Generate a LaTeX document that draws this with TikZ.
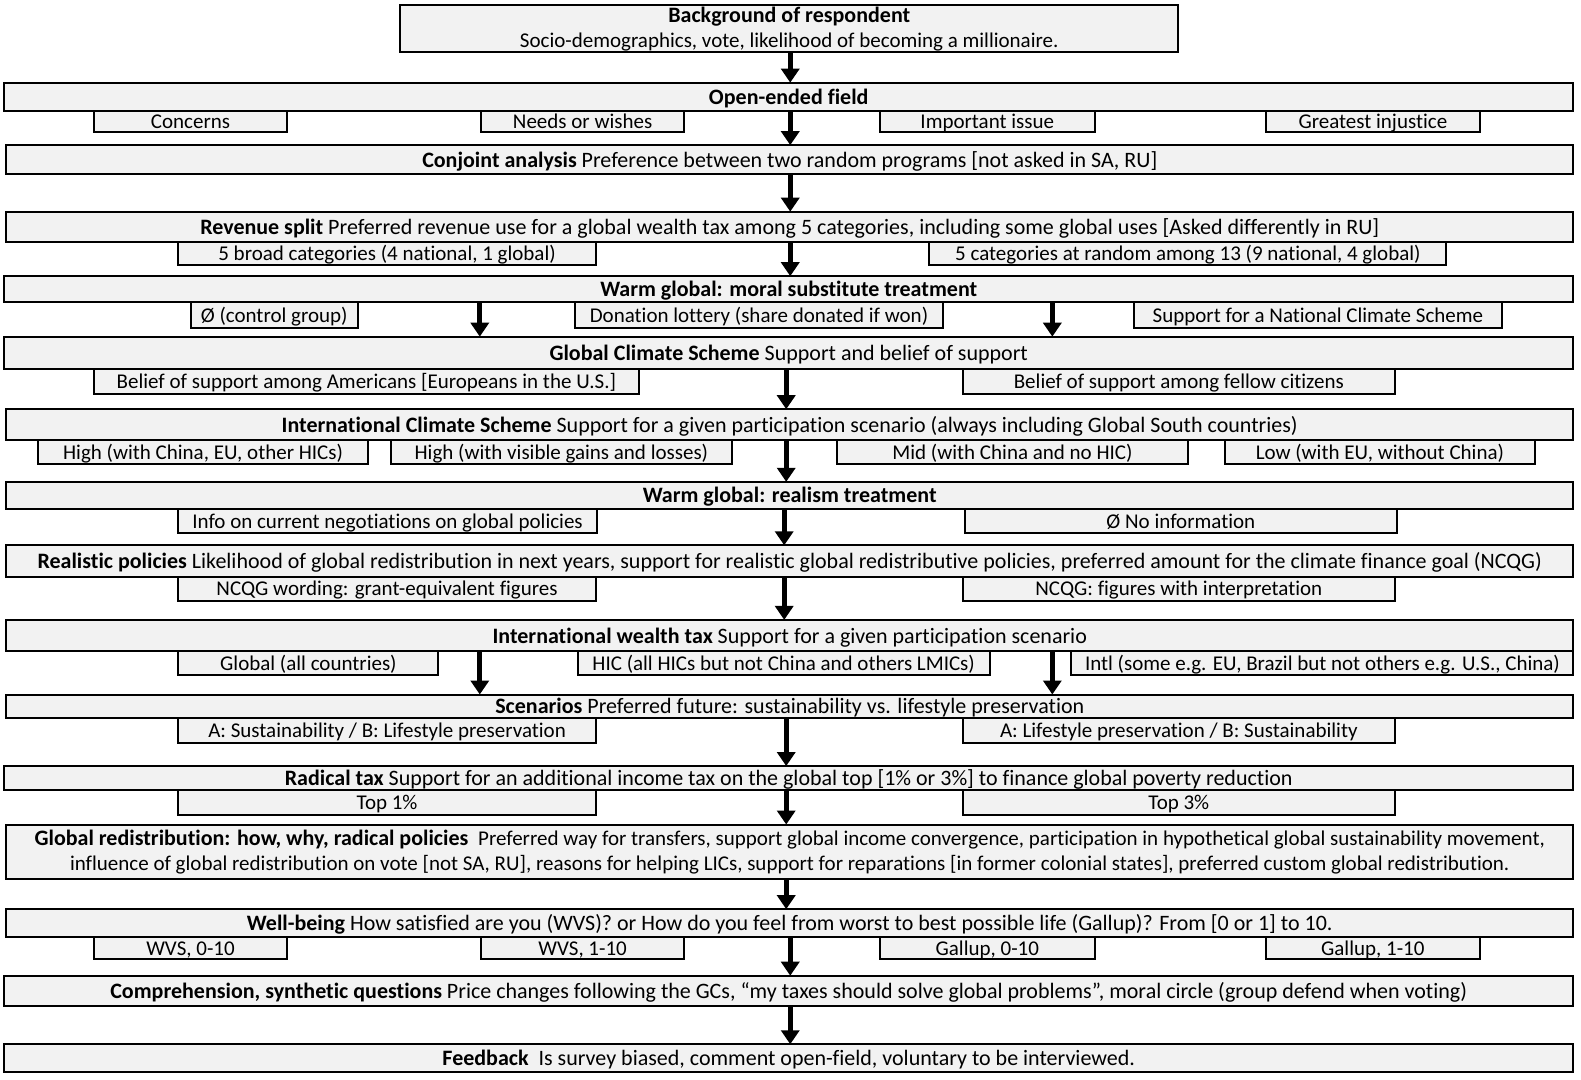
\documentclass[tikz,border=0pt]{standalone}
\usepackage{fontspec}
\setmainfont{Carlito}[Ligatures=NoCommon]
\usetikzlibrary{arrows.meta}
\definecolor{boxgray}{HTML}{F2F2F2}
\newcommand\fmain{\fontsize{11}{12.6}\selectfont}
\newcommand\fsub{\fontsize{10.5}{12.6}\selectfont}
\newcommand\B[7][bx]{%
  \pgfmathsetmacro\bw{(#5-#3)*0.504}%
  \pgfmathsetmacro\bh{(#6-#4)*0.504}%
  \node[#1, minimum width=\bw pt, minimum height=\bh pt] (#2) at ({(#3+#5)/2},{(#4+#6)/2}) {#7};}
\tikzset{
  base/.style={draw, line width=1pt, fill=boxgray, inner sep=0pt, outer sep=0pt},
  bx/.style={base, font=\fmain, text height=7.5pt, text depth=0pt},
  sb/.style={base, font=\fsub, text height=7pt, text depth=0pt},
  two/.style={base, font=\fmain, align=center},
  arr/.style={line width=2.4pt, -{Triangle[width=9pt,length=7pt]}},
}
\begin{document}
\begin{tikzpicture}[x=0.504pt,y=-0.504pt]
\useasboundingbox (0,0) rectangle (1568.5,1071.4);
% Background
\B[two]{bg}{397}{5}{1169}{52}{\textbf{Background of respondent}\\\fsub Socio-demographics, vote, likelihood of becoming a millionaire.}
% Open-ended
\B{open}{4}{82}{1561}{110}{\textbf{Open-ended field}}
\B[sb]{o1}{93}{110}{285}{131}{Concerns}
\B[sb]{o2}{477}{110}{679}{131}{Needs or wishes}
\B[sb]{o3}{873}{110}{1086}{131}{Important issue}
\B[sb]{o4}{1256}{110}{1468}{131}{Greatest injustice}
% Conjoint
\B{conj}{6}{144}{1561}{173}{\textbf{Conjoint analysis} Preference between two random programs [not asked in SA, RU]}
% Revenue split
\B{rev}{6}{210}{1561}{240}{\textbf{Revenue split} Preferred revenue use for a global wealth tax among 5 categories, including some global uses [Asked differently in RU]}
\B[sb]{r1}{177}{240}{591}{263}{5 broad categories (4 national, 1 global)}
\B[sb]{r2}{922}{240}{1435}{263}{5 categories at random among 13 (9 national, 4 global)}
% Warm global moral
\B{wgm}{4}{274}{1561}{300}{\textbf{Warm global: moral substitute treatment}}
\B[sb]{m1}{189}{300}{355}{325}{Ø (control group)}
\B[sb]{m2}{570}{300}{936}{325}{Donation lottery (share donated if won)}
\B[sb]{m3}{1125}{300}{1490}{325}{Support for a National Climate Scheme}
% Global Climate Scheme
\B{gcs}{4}{334}{1561}{366}{\textbf{Global Climate Scheme} Support and belief of support}
\B[sb]{g1}{93}{366}{634}{391}{Belief of support among Americans [Europeans in the U.S.]}
\B[sb]{g2}{955}{366}{1384}{391}{Belief of support among fellow citizens}
% ICS
\B{ics}{6}{406}{1561}{437}{\textbf{International Climate Scheme} Support for a given participation scenario (always including Global South countries)}
\B[sb]{i1}{38}{437}{365}{460}{High (with China, EU, other HICs)}
\B[sb]{i2}{388}{437}{726}{460}{High (with visible gains and losses)}
\B[sb]{i3}{830}{437}{1179}{460}{Mid (with China and no HIC)}
\B[sb]{i4}{1215}{437}{1523}{460}{Low (with EU, without China)}
% Warm global realism
\B{wgr}{6}{478}{1561}{505}{\textbf{Warm global: realism treatment}}
\B[sb]{w1}{177}{505}{592}{529}{Info on current negotiations on global policies}
\B[sb]{w2}{957}{505}{1386}{529}{Ø No information}
% Realistic policies
\B{real}{6}{541}{1561}{572}{\textbf{Realistic policies} Likelihood of global redistribution in next years, support for realistic global redistributive policies, preferred amount for the climate finance goal (NCQG)}
\B[sb]{p1}{177}{572}{591}{596}{NCQG wording: grant-equivalent figures}
\B[sb]{p2}{955}{572}{1384}{596}{NCQG: figures with interpretation}
% International wealth tax
\B{iwt}{6}{615}{1561}{646}{\textbf{International wealth tax} Support for a given participation scenario}
\B[sb]{t1}{177}{646}{435}{670}{Global (all countries)}
\B[sb]{t2}{573}{646}{982}{670}{HIC (all HICs but not China and others LMICs)}
\B[sb]{t3}{1063}{646}{1561}{670}{Intl (some e.g. EU, Brazil but not others e.g. U.S., China)}
% Scenarios
\B{scen}{6}{689}{1561}{712}{\textbf{Scenarios} Preferred future: sustainability vs. lifestyle preservation}
\B[sb]{s1}{177}{712}{591}{737}{A: Sustainability / B: Lifestyle preservation}
\B[sb]{s2}{955}{712}{1384}{737}{A: Lifestyle preservation / B: Sustainability}
% Radical tax
\B{rad}{4}{760}{1561}{784}{\textbf{Radical tax} Support for an additional income tax on the global top [1\% or 3\%] to finance global poverty reduction}
\B[sb]{x1}{177}{784}{591}{809}{Top 1\%}
\B[sb]{x2}{955}{784}{1384}{809}{Top 3\%}
% Global redistribution
\B[two]{gr}{6}{818}{1561}{872}{\textbf{Global redistribution: how, why, radical policies}\ \ {\fsub Preferred way for transfers, support global income convergence, participation in hypothetical global sustainability movement,}\\\fsub influence of global redistribution on vote [not SA, RU], reasons for helping LICs, support for reparations [in former colonial states], preferred custom global redistribution.}
% Well-being
\B{wb}{6}{902}{1561}{930}{\textbf{Well-being} How satisfied are you (WVS)? or How do you feel from worst to best possible life (Gallup)? From [0 or 1] to 10.}
\B[sb]{b1}{93}{930}{285}{951}{WVS, 0-10}
\B[sb]{b2}{477}{930}{679}{951}{WVS, 1-10}
\B[sb]{b3}{873}{930}{1086}{951}{Gallup, 0-10}
\B[sb]{b4}{1256}{930}{1468}{951}{Gallup, 1-10}
% Comprehension
\B{comp}{4}{968}{1561}{998}{\textbf{Comprehension, synthetic questions} Price changes following the GCs, “my taxes should solve global problems”, moral circle (group defend when voting)}
% Feedback
\B{fb}{4}{1036}{1561}{1064}{\textbf{Feedback}\ \ Is survey biased, comment open-field, voluntary to be interviewed.}
% Arrows
\draw[arr] (bg.south -| 784,0) -- (open.north -| 784,0);
\draw[arr] (open.south -| 784,0) -- (conj.north -| 784,0);
\draw[arr] (conj.south -| 784,0) -- (rev.north -| 784,0);
\draw[arr] (rev.south -| 784,0) -- (wgm.north -| 784,0);
\draw[arr] (wgm.south -| 476,0) -- (gcs.north -| 476,0);
\draw[arr] (wgm.south -| 1044,0) -- (gcs.north -| 1044,0);
\draw[arr] (gcs.south -| 780,0) -- (ics.north -| 780,0);
\draw[arr] (ics.south -| 780,0) -- (wgr.north -| 780,0);
\draw[arr] (wgr.south -| 778,0) -- (real.north -| 778,0);
\draw[arr] (real.south -| 778,0) -- (iwt.north -| 778,0);
\draw[arr] (iwt.south -| 476,0) -- (scen.north -| 476,0);
\draw[arr] (iwt.south -| 1044,0) -- (scen.north -| 1044,0);
\draw[arr] (scen.south -| 780,0) -- (rad.north -| 780,0);
\draw[arr] (rad.south -| 780,0) -- (gr.north -| 780,0);
\draw[arr] (gr.south -| 780,0) -- (wb.north -| 780,0);
\draw[arr] (wb.south -| 784,0) -- (comp.north -| 784,0);
\draw[arr] (comp.south -| 784,0) -- (fb.north -| 784,0);
\end{tikzpicture}
\end{document}
